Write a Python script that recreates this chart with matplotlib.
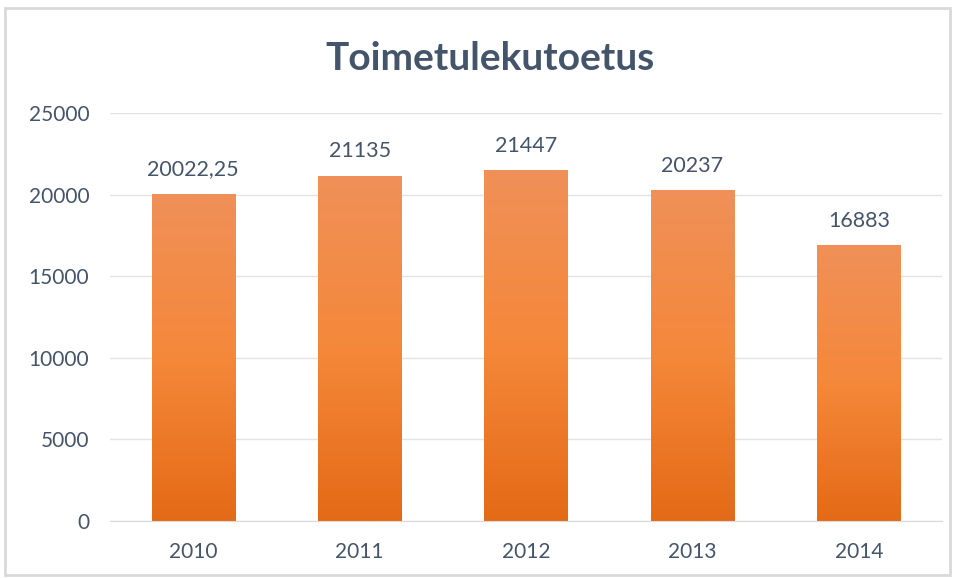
import numpy as np
import matplotlib.pyplot as plt
from matplotlib.colors import LinearSegmentedColormap
from matplotlib.patches import Rectangle

years = ['2010', '2011', '2012', '2013', '2014']
values = [20022.25, 21135, 21447, 20237, 16883]
value_labels = ['20022,25', '21135', '21447', '20237', '16883']
y_ticks = [0, 5000, 10000, 15000, 20000, 25000]

plt.rcParams['font.family'] = ['Lato', 'DejaVu Sans']
text_color = '#44546A'

fig = plt.figure(figsize=(9.57, 5.78), dpi=100)
ax = fig.add_axes([110 / 957, 57 / 578, 832 / 957, 408 / 578])

# light frame round the chart
fig.patches.append(Rectangle((5 / 957, 3 / 578), 945 / 957, 567 / 578,
                             transform=fig.transFigure, fill=False,
                             edgecolor='#D9D9D9', linewidth=2))

cmap = LinearSegmentedColormap.from_list('orange_grad', ['#E46A16', '#F5883A', '#F09058'])
grad = np.linspace(0, 1, 256).reshape(-1, 1)
width = 0.5

for i, v in enumerate(values):
    ax.imshow(grad, cmap=cmap, origin='lower', aspect='auto',
              extent=(i - width / 2, i + width / 2, 0, v), zorder=2)
    ax.text(i, v + 900, value_labels[i], ha='center', va='bottom',
            fontsize=15.5, color=text_color)

ax.set_xlim(-0.5, len(years) - 0.5)
ax.set_ylim(0, 25000)
ax.set_xticks(range(len(years)))
ax.set_xticklabels(years)
ax.set_yticks(y_ticks)
ax.tick_params(axis='both', length=0, labelsize=15, colors=text_color)
ax.tick_params(axis='y', pad=15)
ax.tick_params(axis='x', pad=15)
ax.grid(axis='y', color='#E3E3E3', linewidth=1, zorder=0)
for side in ['top', 'right', 'left']:
    ax.spines[side].set_visible(False)
ax.spines['bottom'].set_color('#D9D9D9')

fig.text(490 / 957, 1 - 58 / 578, 'Toimetulekutoetus', ha='center', va='center',
         fontsize=28, fontweight='bold', color=text_color)

fig.savefig('out.png', dpi=100)
